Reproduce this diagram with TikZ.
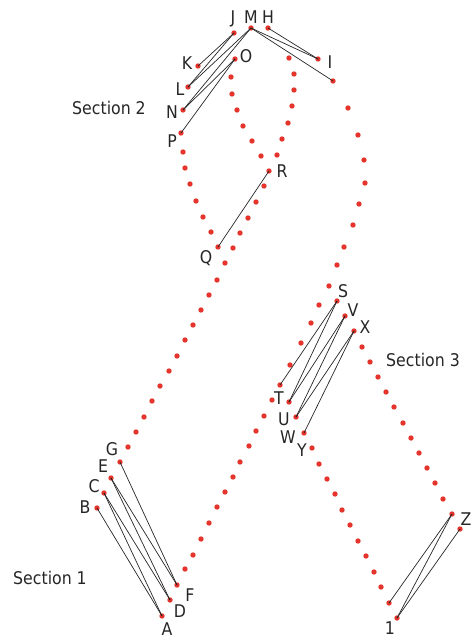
\documentclass[tikz,border=0pt]{standalone}
\usepackage{fontspec}
\setmainfont{DejaVu Sans}[FakeStretch=0.9]
\usepackage{xcolor}
\usepackage{tikz}
\usetikzlibrary{positioning}
\definecolor{dotred}{RGB}{229,52,43}

\begin{document}
\begin{tikzpicture}[x=1pt,y=-1pt,
    bead/.style={circle,fill=dotred,inner sep=0pt,minimum size=5.4pt},
    stitch/.style={black!85,line width=0.7pt},
    lbl/.style={font=\fontsize{17.5}{20}\selectfont,text=black!85,inner sep=0pt}]
    \useasboundingbox (0,0) rectangle (473,639);

    % Dotted strands
    \foreach \p in {(183,152),(185,168),(190,184),(196,201),(203,217),(211,232),
                    (231,77),(232,94),(237,110),(243,126),(252,141),(261,156),
                    (289,58),(294,74),(294,90),(292,106),(288,123),(282,139),(277,155),
                    (264,186),(256,202),(248,218),(240,233),(233,248),(225,263),(217,280),
                    (209,295),(201,310),(193,325),(185,340),(177,356),(169,371),(160,386),
                    (152,401),(144,417),(136,432),(128,447)}
    {
        \fill[dotred] \p circle (2.7pt);
    }
    \foreach \p in {(348,108),(358,135),(364,160),(365,183),(359,204),(353,225),(344,247),
                    (337,265),(329,286),(319,305),(311,323),(301,343),(290,365),(272,400),
                    (264,416),(256,431),(249,446),(240,462),(233,477),(225,492),(217,507),
                    (209,523),(201,539),(193,555),(185,569),
                    (312,448),(319,464),(327,479),(335,494),(342,510),(350,525),(358,541),
                    (366,556),(374,572),(381,587),
                    (362,347),(370,362),(378,377),(386,392),(394,407),(403,423),(411,438),
                    (419,453),(427,468),(435,483),(443,499)}
    {
        \fill[dotred] \p circle (2.7pt);
    }

    % Section 2
    \node[bead] (J) at (234,33) {};
    \node[bead] (M) at (251,28) {};
    \node[bead] (H) at (268,28) {};
    \node[bead] (K) at (198,66) {};
    \node[bead] (L) at (188,87) {};
    \node[bead] (N) at (183,110) {};
    \node[bead] (P) at (181,133) {};
    \node[bead] (O) at (235,59) {};
    \node[bead] (I) at (318,59) {};
    \node[bead] (I2) at (333,81) {};
    \node[bead] (Q) at (218,247) {};
    \node[bead] (R) at (269,171) {};
    \draw[stitch] (J.center) -- (K.center);
    \draw[stitch] (J.center) -- (L.center);
    \draw[stitch] (M.center) -- (L.center);
    \draw[stitch] (M.center) -- (N.center);
    \draw[stitch] (O.center) -- (N.center);
    \draw[stitch] (O.center) -- (P.center);
    \draw[stitch] (M.center) -- (I.center);
    \draw[stitch] (M.center) -- (I2.center);
    \draw[stitch] (H.center) -- (I.center);
    \draw[stitch] (Q.center) -- (R.center);
    \node[lbl] at (233,19) {J};
    \node[lbl] at (251,17) {M};
    \node[lbl] at (268,17) {H};
    \node[lbl] at (187,63) {K};
    \node[lbl] at (180,89) {L};
    \node[lbl] at (172,112) {N};
    \node[lbl] at (172,141) {P};
    \node[lbl] at (246,56) {O};
    \node[lbl] at (330,62) {I};
    \node[lbl] at (282,171) {R};
    \node[lbl] at (206,258) {Q};
    \node[lbl] (sec2) at (109,108) {Section 2};

    % Section 3
    \node[bead] (S) at (337,301) {};
    \node[bead] (V) at (345,316) {};
    \node[bead] (X) at (354,331) {};
    \node[bead] (T) at (280,385) {};
    \node[bead] (U) at (289,402) {};
    \node[bead] (W) at (296,417) {};
    \node[bead] (Y) at (304,433) {};
    \node[bead] (Z) at (452,514) {};
    \node[bead] (Z2) at (460,529) {};
    \node[bead] (end1) at (389,603) {};
    \node[bead] (one) at (397,618) {};
    \draw[stitch] (S.center) -- (T.center);
    \draw[stitch] (S.center) -- (U.center);
    \draw[stitch] (V.center) -- (U.center);
    \draw[stitch] (V.center) -- (W.center);
    \draw[stitch] (X.center) -- (W.center);
    \draw[stitch] (X.center) -- (Y.center);
    \draw[stitch] (Z.center) -- (end1.center);
    \draw[stitch] (Z.center) -- (one.center);
    \draw[stitch] (Z2.center) -- (one.center);
    \node[lbl] at (343,291) {S};
    \node[lbl] at (353,310) {V};
    \node[lbl] at (365,327) {X};
    \node[lbl] at (279,398) {T};
    \node[lbl] at (284,419) {U};
    \node[lbl] at (288,437) {W};
    \node[lbl] at (302,450) {Y};
    \node[lbl] at (466,519) {Z};
    \node[lbl] at (390,628) {1};
    \node[lbl] (sec3) at (423,360) {Section 3};

    % Section 1
    \node[bead] (G) at (120,462) {};
    \node[bead] (E) at (111,478) {};
    \node[bead] (C) at (104,493) {};
    \node[bead] (B) at (97,508) {};
    \node[bead] (F) at (177,585) {};
    \node[bead] (D) at (170,600) {};
    \node[bead] (A) at (162,616) {};
    \draw[stitch] (G.center) -- (F.center);
    \draw[stitch] (E.center) -- (F.center);
    \draw[stitch] (E.center) -- (D.center);
    \draw[stitch] (C.center) -- (D.center);
    \draw[stitch] (C.center) -- (A.center);
    \draw[stitch] (B.center) -- (A.center);
    \node[lbl] at (112,449) {G};
    \node[lbl] at (103,466) {E};
    \node[lbl] at (94,486) {C};
    \node[lbl] at (85,507) {B};
    \node[lbl] at (190,595) {F};
    \node[lbl] at (180,611) {D};
    \node[lbl] at (167,629) {A};
    \node[lbl] (sec1) at (50,578) {Section 1};
\end{tikzpicture}
\end{document}
